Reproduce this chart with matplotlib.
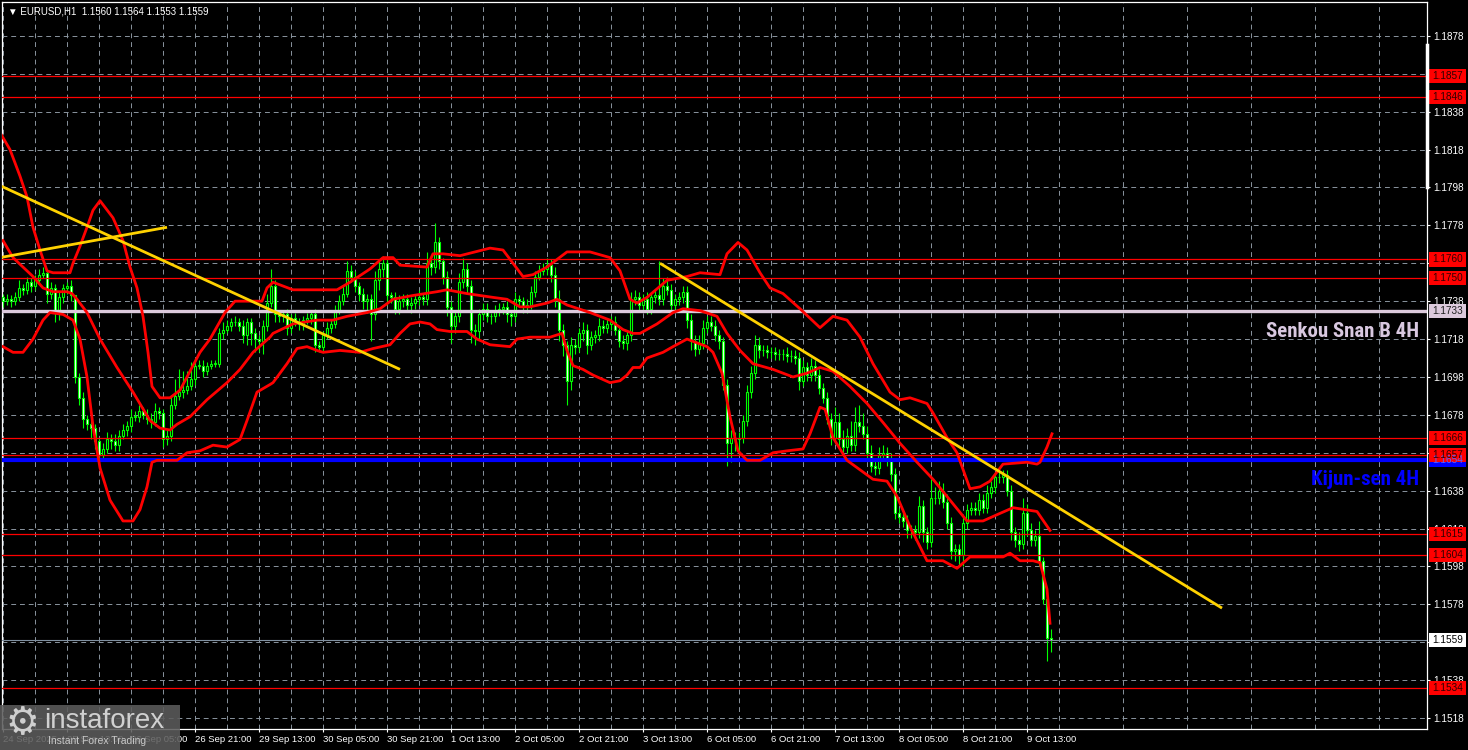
import matplotlib
matplotlib.use("Agg")
import matplotlib.pyplot as plt
from matplotlib.patches import Rectangle


# [Data]______________________________________________________________________________________

first_open = 1.1740

# H1 closes, one per bar (bar 0 = 24 Sep 21:00)
closes = [
    1.1738, 1.1739, 1.1738, 1.1740, 1.1745, 1.1744, 1.1748, 1.1746, 1.1749, 1.1752,
    1.1753, 1.1742, 1.1745, 1.1733, 1.1740, 1.1745, 1.1746, 1.1741, 1.1698, 1.1687,
    1.1676, 1.1673, 1.1671, 1.1664, 1.1657, 1.1660, 1.1665, 1.1664, 1.1662, 1.1667,
    1.1670, 1.1672, 1.1677, 1.1677, 1.1680, 1.1678, 1.1676, 1.1674, 1.1680, 1.1679,
    1.1665, 1.1667, 1.1683, 1.1688, 1.1690, 1.1691, 1.1693, 1.1697, 1.1704, 1.1704,
    1.1701, 1.1704, 1.1705, 1.1705, 1.1721, 1.1723, 1.1725, 1.1727, 1.1727, 1.1725,
    1.1720, 1.1727, 1.1721, 1.1718, 1.1717, 1.1725, 1.1737, 1.1746, 1.1731, 1.1730,
    1.1731, 1.1724, 1.1729, 1.1727, 1.1726, 1.1728, 1.1729, 1.1731, 1.1715, 1.1714,
    1.1720, 1.1724, 1.1726, 1.1733, 1.1738, 1.1742, 1.1754, 1.1751, 1.1746, 1.1742,
    1.1738, 1.1739, 1.1731, 1.1749, 1.1755, 1.1758, 1.1741, 1.1740, 1.1734, 1.1738,
    1.1739, 1.1736, 1.1737, 1.1739, 1.1740, 1.1739, 1.1758, 1.1756, 1.1769, 1.1759,
    1.1751, 1.1735, 1.1725, 1.1730, 1.1748, 1.1755, 1.1746, 1.1723, 1.1722, 1.1731,
    1.1734, 1.1730, 1.1730, 1.1733, 1.1734, 1.1735, 1.1731, 1.1730, 1.1739, 1.1738,
    1.1735, 1.1736, 1.1743, 1.1751, 1.1754, 1.1755, 1.1757, 1.1752, 1.1739, 1.1723,
    1.1715, 1.1696, 1.1715, 1.1714, 1.1721, 1.1723, 1.1715, 1.1719, 1.1720, 1.1725,
    1.1724, 1.1726, 1.1727, 1.1723, 1.1717, 1.1716, 1.1720, 1.1739, 1.1740, 1.1736,
    1.1739, 1.1734, 1.1740, 1.1741, 1.1739, 1.1746, 1.1744, 1.1736, 1.1739, 1.1740,
    1.1743, 1.1728, 1.1717, 1.1713, 1.1716, 1.1724, 1.1727, 1.1725, 1.1720, 1.1717,
    1.1694, 1.1663, 1.1666, 1.1665, 1.1666, 1.1675, 1.1690, 1.1700, 1.1715, 1.1712,
    1.1712, 1.1711, 1.1711, 1.1710, 1.1710, 1.1710, 1.1709, 1.1709, 1.1708, 1.1696,
    1.1703, 1.1699, 1.1704, 1.1699, 1.1692, 1.1687, 1.1676, 1.1666, 1.1674, 1.1665,
    1.1661, 1.1667, 1.1662, 1.1674, 1.1672, 1.1668, 1.1658, 1.1651, 1.1650, 1.1657,
    1.1658, 1.1654, 1.1647, 1.1626, 1.1624, 1.1622, 1.1617, 1.1617, 1.1616, 1.1630,
    1.1616, 1.1611, 1.1634, 1.1634, 1.1638, 1.1632, 1.1621, 1.1606, 1.1607, 1.1604,
    1.1621, 1.1628, 1.1629, 1.1628, 1.1633, 1.1629, 1.1637, 1.1640, 1.1645, 1.1645,
    1.1646, 1.1638, 1.1616, 1.1612, 1.1610, 1.1626, 1.1617, 1.1612, 1.1614, 1.1601,
    1.1581, 1.1560, 1.1559,
]

# wick lengths in pips above / below the body
up_wick = [
    2, 3, 2, 3, 4, 2, 3, 2, 3, 3,   3, 2, 3, 2, 3, 2, 2, 3, 0, 2,
    3, 2, 3, 2, 2, 3, 4, 3, 4, 3,   3, 3, 4, 3, 3, 2, 3, 3, 4, 2,
    2, 3, 5, 9, 12, 10, 8, 9, 4, 3, 3, 2, 2, 2, 3, 4, 3, 2, 3, 2,
    3, 2, 2, 3, 2, 3, 5, 9, 3, 2,   2, 3, 2, 3, 2, 2, 3, 2, 3, 2,
    2, 3, 2, 3, 3, 4, 5, 3, 3, 2,   3, 3, 3, 5, 4, 4, 3, 2, 3, 3,
    3, 3, 3, 3, 4, 2, 6, 4, 10, 3,  2, 3, 3, 3, 5, 6, 3, 3, 3, 3,
    3, 3, 2, 3, 3, 2, 3, 2, 4, 2,   2, 3, 3, 3, 3, 3, 4, 3, 4, 5,
    3, 2, 4, 3, 3, 4, 3, 3, 3, 4,   3, 3, 3, 3, 2, 3, 3, 4, 4, 3,
    3, 4, 3, 3, 18, 4, 5, 3, 3, 3,  3, 3, 3, 3, 4, 4, 3, 3, 3, 3,
    2, 3, 4, 3, 3, 3, 4, 4, 5, 4,   3, 3, 3, 3, 3, 3, 4, 3, 3, 3,
    4, 3, 4, 3, 3, 3, 3, 3, 8, 5,   5, 4, 8, 8, 9, 7, 4, 4, 3, 4,
    4, 3, 4, 3, 3, 4, 3, 3, 3, 5,   3, 3, 10, 6, 5, 4, 4, 3, 3, 3,
    3, 3, 3, 3, 4, 3, 4, 3, 3, 3,   3, 3, 3, 3, 4, 8, 5, 4, 3, 8,
    2, 2, 5,
]
low_wick = [
    3, 2, 3, 2, 2, 3, 2, 3, 2, 2,   2, 5, 3, 6, 5, 3, 3, 3, 3, 4,
    5, 3, 6, 4, 4, 3, 2, 4, 3, 3,   2, 3, 3, 2, 3, 2, 3, 3, 2, 3,
    4, 3, 3, 2, 2, 3, 2, 2, 3, 2,   3, 2, 2, 2, 2, 3, 2, 3, 2, 3,
    4, 5, 6, 7, 6, 7, 3, 2, 4, 3,   3, 4, 3, 2, 3, 3, 2, 3, 4, 3,
    3, 2, 3, 2, 2, 2, 2, 3, 3, 4,   4, 6, 14, 3, 5, 4, 5, 3, 3, 3,
    3, 3, 4, 3, 3, 3, 3, 4, 3, 4,   4, 5, 9, 4, 3, 3, 4, 7, 7, 4,
    3, 3, 4, 3, 3, 3, 4, 5, 3, 3,   3, 3, 2, 3, 2, 2, 3, 4, 4, 6,
    6, 13, 5, 4, 3, 4, 5, 3, 3, 3,  3, 3, 3, 3, 3, 3, 4, 3, 3, 3,
    3, 3, 3, 3, 3, 3, 3, 4, 3, 3,   3, 4, 5, 4, 3, 3, 3, 3, 3, 4,
    3, 12, 10, 6, 8, 3, 3, 3, 3, 4, 3, 3, 3, 3, 3, 3, 3, 3, 3, 5,
    3, 3, 3, 3, 3, 3, 3, 4, 3, 4,   4, 3, 3, 3, 3, 3, 3, 3, 4, 3,
    3, 3, 4, 3, 3, 3, 4, 4, 4, 3,   5, 4, 3, 3, 3, 3, 3, 4, 5, 6,
    6, 3, 3, 3, 3, 3, 3, 3, 3, 3,   3, 3, 4, 4, 4, 3, 3, 3, 3, 3,
    3, 12, 6,
]

# Bollinger bands (bar, price)
upper_bar = [-0.75, 1.75, 4.25, 6, 7.5, 9.25, 11, 12.5, 16.75, 17.5, 19.25, 21, 22.5, 24.25,
             27.5, 30, 31.75, 33.5, 35, 36.25, 37.25, 39.25, 41.75, 44.25, 46.75, 49.25, 51.75,
             55.5, 58, 61.75, 64.75, 66, 67.5, 72.5, 83.5, 86.75, 91.75, 95, 97.5, 99.25, 106,
             107.5, 110, 114.25, 121.75, 125, 127.5, 130, 132.5, 136, 141, 146.75, 151.75,
             154.25, 156.75, 158.5, 161, 166, 171, 174.25, 179.25, 181, 183.75, 186, 189.25,
             191.75, 195, 199.25, 204.25, 207.5, 211, 214.25, 217.5, 221.75, 224.25, 226.75,
             231, 232.5, 236, 238.5, 241.75, 244.25, 246.75, 250, 256, 258.5, 259.25, 261, 262.25]
upper_val = [1.1827, 1.1818, 1.1804, 1.1793, 1.1777, 1.1765, 1.1754, 1.1753, 1.1753, 1.1758,
             1.1767, 1.1777, 1.1786, 1.1791, 1.1782, 1.1770, 1.1756, 1.1745, 1.1730, 1.1711,
             1.1693, 1.1687, 1.1687, 1.1691, 1.1701, 1.1711, 1.1718, 1.1732, 1.1738, 1.1738,
             1.1738, 1.1745, 1.1748, 1.1744, 1.1744, 1.1748, 1.1755, 1.1761, 1.1761, 1.1757,
             1.1756, 1.1763, 1.1763, 1.1762, 1.1766, 1.1765, 1.1758, 1.1751, 1.1752, 1.1756,
             1.1764, 1.1764, 1.1761, 1.1754, 1.1739, 1.1737, 1.1740, 1.1749, 1.1751, 1.1753,
             1.1752, 1.1763, 1.1769, 1.1765, 1.1753, 1.1745, 1.1742, 1.1734, 1.1724, 1.1730,
             1.1728, 1.1719, 1.1705, 1.1690, 1.1686, 1.1687, 1.1684, 1.1679, 1.1666, 1.1658,
             1.1639, 1.1640, 1.1643, 1.1652, 1.1653, 1.1652, 1.1653, 1.1661, 1.1668]

mid_bar = [0, 2.5, 7.5, 10, 12.5, 16, 17.25, 18.5, 21, 24.25, 28.5, 32.5, 36.75, 39.25, 41.75,
           43.5, 46.75, 51, 56, 59.25, 62.5, 66.75, 67.5, 72.5, 78.5, 82.5, 86, 91, 94.25, 97.5,
           102.5, 108.5, 111, 116, 122.5, 126, 129.25, 131.75, 136, 138.5, 141, 146.75, 151.75,
           155, 157.5, 159.25, 163.5, 167.5, 170, 174.25, 178.5, 181, 184.25, 187.5, 192.5,
           197.5, 201, 204.25, 207.5, 211.75, 216, 220, 224.25, 228.5, 232.5, 236.75, 241, 245,
           249.25, 252.5, 258.5, 261.75]
mid_val = [1.1770, 1.1761, 1.1751, 1.1745, 1.1743, 1.1743, 1.1742, 1.1739, 1.1732, 1.1718,
           1.1703, 1.1690, 1.1675, 1.1671, 1.1670, 1.1673, 1.1677, 1.1686, 1.1695, 1.1702,
           1.1711, 1.1719, 1.1721, 1.1726, 1.1728, 1.1728, 1.1730, 1.1732, 1.1734, 1.1739,
           1.1741, 1.1743, 1.1744, 1.1742, 1.1740, 1.1739, 1.1735, 1.1735, 1.1737, 1.1739,
           1.1736, 1.1732, 1.1728, 1.1723, 1.1721, 1.1721, 1.1726, 1.1732, 1.1734, 1.1733,
           1.1730, 1.1721, 1.1712, 1.1705, 1.1702, 1.1698, 1.1700, 1.1703, 1.1701, 1.1693,
           1.1684, 1.1674, 1.1663, 1.1653, 1.1644, 1.1633, 1.1622, 1.1622, 1.1626, 1.1629,
           1.1627, 1.1617]

low_bar = [0, 2.5, 5, 7.5, 10, 11.75, 15, 17.5, 19.25, 21, 22.5, 24.25, 26.75, 30, 32.5, 34.25,
           36, 37.25, 38.5, 43.5, 46, 49.25, 52.5, 56, 59.25, 61, 63.5, 66.75, 67.5, 71, 73.5,
           76, 78.5, 80, 84.25, 89.25, 92.5, 96.75, 99.25, 101.75, 104.25, 106.75, 108.5, 111.75,
           116, 118.5, 121.75, 126.75, 128.5, 131.75, 136.75, 139.75, 141, 142.5, 145, 147.5,
           151.75, 154.25, 156, 157.5, 159.25, 161, 165, 167.5, 171, 173.5, 176, 177.5, 179.75,
           181.75, 183.75, 186, 189.25, 192.5, 196, 200, 201.75, 204.25, 205.5, 207.5, 211,
           214.25, 217.5, 221, 223.5, 226.75, 231, 235, 238.5, 241.75, 246, 250, 251.75, 254.25,
           257.5, 259.25, 261, 261.75]
low_val = [1.1714, 1.1711, 1.1711, 1.1718, 1.1728, 1.1732, 1.1731, 1.1728, 1.1718, 1.1698,
           1.1672, 1.1650, 1.1633, 1.1622, 1.1622, 1.1628, 1.1640, 1.1653, 1.1654, 1.1654,
           1.1658, 1.1659, 1.1662, 1.1661, 1.1665, 1.1675, 1.1690, 1.1694, 1.1695, 1.1705,
           1.1713, 1.1714, 1.1712, 1.1711, 1.1712, 1.1711, 1.1713, 1.1715, 1.1721, 1.1726,
           1.1727, 1.1726, 1.1723, 1.1722, 1.1722, 1.1718, 1.1715, 1.1714, 1.1718, 1.1719,
           1.1719, 1.1721, 1.1712, 1.1704, 1.1702, 1.1699, 1.1695, 1.1696, 1.1699, 1.1703,
           1.1703, 1.1708, 1.1711, 1.1714, 1.1718, 1.1716, 1.1714, 1.1711, 1.1700, 1.1677,
           1.1659, 1.1654, 1.1654, 1.1658, 1.1659, 1.1660, 1.1668, 1.1682, 1.1681, 1.1666,
           1.1654, 1.1649, 1.1644, 1.1643, 1.1635, 1.1619, 1.1601, 1.1601, 1.1597, 1.1603,
           1.1603, 1.1603, 1.1605, 1.1601, 1.1601, 1.1600, 1.1586, 1.1568]

# yellow trend lines: start/end bar and price
trend_bars = [[-0.75, 99.25], [-0.75, 41.0], [164.25, 304.75]]
trend_vals = [[1.1799, 1.1702], [1.1761, 1.1777], [1.1758, 1.1576]]

red_levels = [1.1857, 1.1846, 1.1760, 1.1750, 1.1666, 1.1657, 1.1615, 1.1604, 1.1534]
senkou_b = 1.1733
kijun = 1.1654
last_price = 1.1559

# scale values (the ones fully covered by level boxes are not shown on the chart)
y_grid = [1.1518, 1.1538, 1.1558, 1.1578, 1.1598, 1.1618, 1.1638, 1.1658, 1.1678, 1.1698,
          1.1718, 1.1738, 1.1758, 1.1778, 1.1798, 1.1818, 1.1838, 1.1858, 1.1878]
y_hidden = [1.1558, 1.1658, 1.1858]

x_label_bars = [0, 16, 32, 48, 64, 80, 96, 112, 128, 144, 160, 176, 192, 208, 224, 240, 256]
x_labels = ["24 Sep 2025", "25 Sep 13:00", "26 Sep 05:00", "26 Sep 21:00", "29 Sep 13:00",
            "30 Sep 05:00", "30 Sep 21:00", "1 Oct 13:00", "2 Oct 05:00", "2 Oct 21:00",
            "3 Oct 13:00", "6 Oct 05:00", "6 Oct 21:00", "7 Oct 13:00", "8 Oct 05:00",
            "8 Oct 21:00", "9 Oct 13:00"]
grid_bars = list(range(8, 353, 16))


# [Plot]______________________________________________________________________________________

plt.rcParams['font.family'] = ['Liberation Sans', 'DejaVu Sans']
narrow = ['Roboto Condensed', 'Liberation Sans Narrow', 'DejaVu Sans']

W, H = 1468, 750
fig = plt.figure(figsize=(W / 100, H / 100), dpi=100, facecolor='black')
ax = fig.add_axes([2 / W, 21 / H, 1425 / W, 727 / H], facecolor='black')

pip = 0.0001
opens = [first_open] + closes[:-1]
bars = list(range(len(closes)))
highs = [max(o, c) + u * pip for o, c, u in zip(opens, closes, up_wick)]
lows = [min(o, c) - d * pip for o, c, d in zip(opens, closes, low_wick)]

ax.vlines(bars, lows, highs, color='#00ff00', lw=0.8, zorder=2)
for i, (o, c) in enumerate(zip(opens, closes)):
    fc = 'black' if c >= o else 'white'
    h = max(abs(c - o), 0.00002)
    ax.add_patch(Rectangle((i - 0.32, min(o, c)), 0.64, h, fc=fc, ec='#00ff00', lw=0.8, zorder=3))

# horizontal levels
for lv in red_levels:
    ax.axhline(lv, color='#ff0000', lw=0.9, zorder=4)
ax.axhline(senkou_b, color='#dccadc', lw=2.4, zorder=4)
ax.axhline(kijun, color='#0000ff', lw=3.0, zorder=4)
ax.axhline(last_price, color='#8090a0', lw=0.8, zorder=4)

# bands
ax.plot(upper_bar, upper_val, color='#ff0000', lw=2.0, zorder=5)
ax.plot(mid_bar, mid_val, color='#ff0000', lw=2.0, zorder=5)
ax.plot(low_bar, low_val, color='#ff0000', lw=2.0, zorder=5)

# trend lines
for tb, tv in zip(trend_bars, trend_vals):
    ax.plot(tb, tv, color='#ffd200', lw=2.0, zorder=6, solid_capstyle='butt')

ax.text(354, senkou_b - 0.00110, "Senkou Snan B 4H", color='#d8c8e0', fontsize=15,
        family=narrow, weight='bold', ha='right', va='center', zorder=7)
ax.text(354, kijun - 0.00100, "Kijun-sen 4H", color='#0000ff', fontsize=15,
        family=narrow, weight='bold', ha='right', va='center', zorder=7)

ax.set_xlim(-0.25, 356)
ax.set_ylim(1.15122, 1.18959)

# grid + ticks
ax.set_axisbelow(True)
ax.set_yticks(y_grid)
ax.set_yticklabels(["" if v in y_hidden else f"{v:.4f}" for v in y_grid])
ax.set_xticks(x_label_bars)
ax.set_xticklabels(x_labels)
ax.set_xticks(grid_bars, minor=True)
ax.grid(True, which='both', color='#8a949e', lw=0.7, linestyle=(0, (5, 4)))
ax.yaxis.tick_right()
ax.tick_params(axis='y', colors='white', labelsize=7.2, length=2.5, pad=2, width=0.8)
ax.tick_params(axis='x', which='major', colors='white', labelsize=6.8, length=2.5, pad=2, width=0.8)
ax.tick_params(axis='x', which='minor', length=0)
for lab in ax.get_xticklabels():
    lab.set_ha('left')
for s in ax.spines.values():
    s.set_color('white')
    s.set_linewidth(0.9)

# price boxes on the right scale
ytr = ax.get_yaxis_transform()
box_h = 0.00074


def price_box(val, fc, tc):
    ax.add_patch(Rectangle((1.0014, val - box_h / 2), 0.026, box_h, transform=ytr,
                           fc=fc, ec='none', clip_on=False, zorder=8))
    ax.text(1.0035, val, f"{val:.4f}", transform=ytr, color=tc, fontsize=7.2,
            ha='left', va='center', clip_on=False, zorder=9)


price_box(kijun, '#0000ff', '#6060ff')
for lv in red_levels:
    price_box(lv, '#ff0000', '#300000')
price_box(senkou_b, '#dccadc', '#202020')
price_box(last_price, 'white', 'black')

# white marker on the right border
ax.plot([1.0, 1.0], [1.1873, 1.1798], transform=ytr, color='white', lw=2.5, clip_on=False, zorder=8)

# header
fig.text(8 / W, 1 - 12 / H, "\u25bc EURUSD,H1  1.1560 1.1564 1.1553 1.1559", color='white',
         fontsize=7, va='center', ha='left')

# watermark
fig.patches.append(Rectangle((0, 0), 180 / W, 45 / H, transform=fig.transFigure,
                             fc='#5c5c5c', ec='none', alpha=0.88, zorder=10))
fig.text(22 / W, 1 - 724 / H, "\u2699", color='#cfcfcf', fontsize=27, ha='center', va='center',
         family=['DejaVu Sans'], zorder=11)
fig.text(44 / W, 1 - 721 / H, "instaforex", color='#d0d0d0', fontsize=20, ha='left', va='center', zorder=11)
fig.text(48 / W, 1 - 741 / H, "Instant Forex Trading", color='#c8c8c8', fontsize=7.5, ha='left',
         va='center', zorder=11)

fig.savefig("out.png", dpi=100, facecolor='black')
